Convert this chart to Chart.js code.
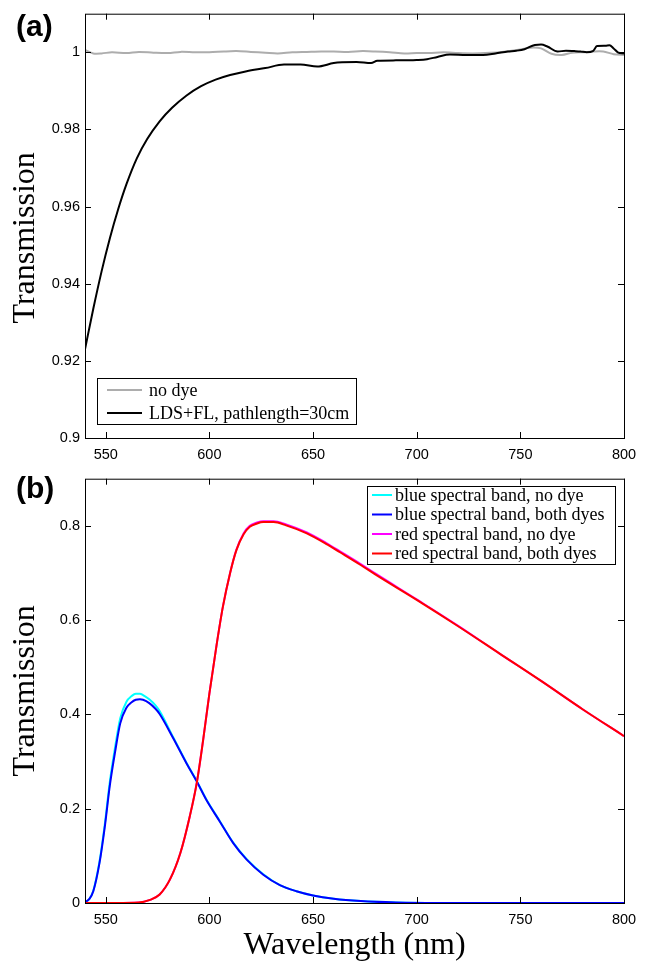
<!DOCTYPE html>
<html>
<head>
<meta charset="utf-8">
<script src="https://cdn.jsdelivr.net/npm/chart.js@4.4.0/dist/chart.umd.min.js"></script>
<style>
  html, body { margin: 0; padding: 0; background: #fff; }
  #wrapA { position: absolute; left: 0; top: 0; width: 646px; height: 465px; }
  #wrapB { position: absolute; left: 0; top: 465px; width: 646px; height: 504px; }
</style>
</head>
<body>
<div id="wrapA"><canvas id="chartA" width="646" height="465"></canvas></div>
<div id="wrapB"><canvas id="chartB" width="646" height="504"></canvas></div>
<script>
// ---- data ----
// (a) transmission near 1
const wlNoDye = [540, 544, 548, 553, 560, 566, 573, 580, 586, 593, 600, 607, 613, 620, 627, 633, 640, 647, 654, 660,
                 667, 674, 680, 687, 694, 700, 706, 713, 720, 727, 733, 740, 745, 750, 755, 760, 765, 770, 775, 780,
                 785, 790, 795, 800];
const noDye = [1.0006, 0.9997, 0.9997, 1.0, 0.9998, 1.0001, 0.9999, 0.9998, 1.0001, 1.0, 1.0, 1.0002, 1.0003, 1.0001,
               0.9999, 0.9997, 1.0, 1.0001, 1.0002, 1.0002, 1.0001, 1.0003, 1.0002, 1.0, 0.9997, 0.9998, 0.9998, 1.0,
               0.9998, 0.9997, 0.9998, 1.0, 1.0003, 1.0007, 1.0012, 1.0010, 0.9996, 0.9993, 0.9999, 1.0, 1.0002,
               1.0002, 0.9995, 0.9993];

const wlLds = [540, 544, 548, 552, 556, 560, 565, 570, 576, 582, 589, 596, 603, 610, 618, 627, 636, 644, 652, 660,
               664, 671, 678, 681, 690, 700, 705, 710, 716, 724, 732, 738, 744, 748, 752, 757, 760, 763, 768, 772,
               776, 779, 782, 785, 787, 791, 793, 795, 797, 800];
const ldsFl = [0.923, 0.9335, 0.9432, 0.9518, 0.9593, 0.9658, 0.9725, 0.9775, 0.9821, 0.9856, 0.9888, 0.9912, 0.9929,
               0.9941, 0.9951, 0.9959, 0.9968, 0.9968, 0.9963, 0.9972, 0.9974, 0.9975, 0.9972, 0.9978, 0.9979, 0.998,
               0.9982, 0.9988, 0.9994, 0.9993, 0.9993, 0.9997, 1.0002, 1.0004, 1.0008, 1.0019, 1.002, 1.0015, 1.0002,
               1.0004, 1.0003, 1.0002, 1.0, 1.0003, 1.0016, 1.0017, 1.0018, 1.001, 1.0, 0.9997];

// (b) spectral bands
const wlBlue = [540, 542, 544, 547, 549.5, 552, 554.5, 557, 560, 562.5, 564.5, 566.5, 568, 571, 574, 576, 582.5, 589,
                594, 598.5, 605, 611.5, 618, 626, 634, 642, 650, 660, 673, 690, 710, 750, 800];
const blueNoDye = [0.002, 0.008, 0.026, 0.088, 0.165, 0.258, 0.33, 0.392, 0.427, 0.439, 0.444, 0.444, 0.441, 0.432,
                   0.419, 0.407, 0.352, 0.297, 0.258, 0.22, 0.174, 0.128, 0.093, 0.061, 0.038, 0.025, 0.016, 0.009,
                   0.004, 0.001, 0, 0, 0];
const blueBoth = [0.002, 0.008, 0.025, 0.085, 0.16, 0.25, 0.32, 0.381, 0.414, 0.426, 0.431, 0.432, 0.431, 0.424,
                  0.412, 0.401, 0.35, 0.296, 0.257, 0.219, 0.173, 0.127, 0.092, 0.06, 0.038, 0.025, 0.016, 0.009,
                  0.004, 0.001, 0, 0, 0];

const wlRed = [540, 555, 566, 571, 576, 581, 586, 590.5, 594, 597, 600, 603.5, 606.5, 610, 613, 616.5, 619.5, 623,
               626, 631, 637, 647, 657, 663, 673, 680, 700, 720, 740, 760, 780, 800];
const redNoDye = [0, 0, 0.001, 0.006, 0.018, 0.05, 0.106, 0.183, 0.257, 0.346, 0.444, 0.548, 0.628, 0.7, 0.749,
                  0.784, 0.8, 0.807, 0.81, 0.81, 0.803, 0.786, 0.762, 0.746, 0.719, 0.699, 0.644, 0.588, 0.529, 0.471,
                  0.411, 0.354];
const redBoth = [0, 0, 0.001, 0.006, 0.018, 0.05, 0.106, 0.183, 0.257, 0.346, 0.444, 0.548, 0.628, 0.7, 0.748,
                 0.782, 0.798, 0.805, 0.808, 0.808, 0.801, 0.784, 0.76, 0.744, 0.717, 0.697, 0.643, 0.587, 0.529,
                 0.471, 0.411, 0.354];

// ticks
const xTicks = [550, 600, 650, 700, 750, 800];
const yTicksA = [0.9, 0.92, 0.94, 0.96, 0.98, 1];
const yLabelsA = ['0.9', '0.92', '0.94', '0.96', '0.98', '1'];
const yTicksB = [0, 0.2, 0.4, 0.6, 0.8];
const yLabelsB = ['0', '0.2', '0.4', '0.6', '0.8'];

function pts(xs, ys) {
  return xs.map((x, i) => ({ x: x, y: ys[i] }));
}

// box, inward ticks, boxed legend and panel letter (matlab look)
const framePlugin = {
  id: 'frame',
  afterDatasetsDraw(chart, args, opts) {
    const ctx = chart.ctx, a = chart.chartArea;
    const xs = chart.scales.x, ys = chart.scales.y;
    ctx.save();
    ctx.strokeStyle = '#000';
    ctx.lineWidth = 1;
    ctx.strokeRect(a.left + 0.5, a.top + 0.5, a.right - a.left, a.bottom - a.top);
    ctx.beginPath();
    opts.xTicks.forEach(v => {
      const px = Math.round(xs.getPixelForValue(v)) + 0.5;
      ctx.moveTo(px, a.bottom); ctx.lineTo(px, a.bottom - 6);
      ctx.moveTo(px, a.top); ctx.lineTo(px, a.top + 6);
    });
    opts.yTicks.forEach(v => {
      const py = Math.round(ys.getPixelForValue(v)) + 0.5;
      ctx.moveTo(a.left, py); ctx.lineTo(a.left + 6, py);
      ctx.moveTo(a.right, py); ctx.lineTo(a.right - 6, py);
    });
    ctx.stroke();

    // legend
    const lg = opts.legend;
    ctx.fillStyle = '#fff';
    ctx.fillRect(lg.x, lg.y, lg.w, lg.h);
    ctx.strokeRect(lg.x + 0.5, lg.y + 0.5, lg.w, lg.h);
    ctx.font = '18px "Liberation Serif"';
    ctx.textBaseline = 'middle';
    ctx.textAlign = 'left';
    chart.data.datasets.forEach((ds, i) => {
      const ry = lg.y + lg.firstRow + i * lg.rowGap;
      ctx.strokeStyle = ds.borderColor;
      ctx.lineWidth = 2;
      ctx.beginPath();
      ctx.moveTo(lg.x + lg.lineStart, ry);
      ctx.lineTo(lg.x + lg.lineEnd, ry);
      ctx.stroke();
      ctx.fillStyle = '#000';
      ctx.fillText(ds.label, lg.x + lg.textStart, ry + 1);
    });

    ctx.font = 'bold 30px "Liberation Sans"';
    ctx.textBaseline = 'alphabetic';
    ctx.fillStyle = '#000';
    ctx.fillText(opts.panel, 16, opts.panelY);
    ctx.restore();
  }
};

function makeOptions(yMin, yMax, yTicks, yLabels, xHeight, withXTitle, yTitle, frame) {
  return {
    responsive: false,
    animation: false,
    devicePixelRatio: 1,
    layout: { padding: { left: 0, right: 22, top: 13, bottom: 0 } },
    elements: { point: { radius: 0 }, line: { borderWidth: 2 } },
    plugins: { legend: { display: false }, tooltip: { enabled: false }, frame: frame },
    scales: {
      x: {
        type: 'linear', min: 540, max: 800,
        afterBuildTicks: s => { s.ticks = xTicks.map(v => ({ value: v })); },
        afterFit: s => { s.height = xHeight; },
        grid: { display: false, drawTicks: false },
        border: { display: false },
        ticks: { color: '#000', padding: 8, maxRotation: 0, font: { family: 'Liberation Sans', size: 14.5 } },
        title: {
          display: withXTitle, text: 'Wavelength (nm)', color: '#000',
          font: { family: 'Liberation Serif', size: 32, lineHeight: 1.2 },
          padding: { top: 0, bottom: 4 }
        }
      },
      y: {
        type: 'linear', min: yMin, max: yMax,
        afterBuildTicks: s => { s.ticks = yTicks.map(v => ({ value: v })); },
        afterFit: s => { s.width = 85; },
        grid: { display: false, drawTicks: false },
        border: { display: false },
        ticks: { color: '#000', padding: 5, font: { family: 'Liberation Sans', size: 14.5 },
                 callback: (v, i) => yLabels[i] },
        title: {
          display: true, text: yTitle, color: '#000',
          font: { family: 'Liberation Serif', size: 32, lineHeight: 1.2 },
          padding: { top: 6, bottom: 0 }
        }
      }
    }
  };
}

new Chart(document.getElementById('chartA'), {
  type: 'line',
  data: {
    datasets: [
      { label: 'no dye', data: pts(wlNoDye, noDye), borderColor: '#adadad', tension: 0.3, order: 1 },
      { label: 'LDS+FL, pathlength=30cm', data: pts(wlLds, ldsFl), borderColor: '#000',
        cubicInterpolationMode: 'monotone', order: 0 }
    ]
  },
  // trailing spaces nudge the rotated title down a bit, as in the original
  options: makeOptions(0.9, 1.01, yTicksA, yLabelsA, 27, false, 'Transmission   ', {
    xTicks: xTicks, yTicks: yTicksA, panel: '(a)', panelY: 36,
    legend: { x: 97, y: 378, w: 259, h: 46, firstRow: 12, rowGap: 23, lineStart: 10, lineEnd: 45, textStart: 52 }
  }),
  plugins: [framePlugin]
});

new Chart(document.getElementById('chartB'), {
  type: 'line',
  data: {
    datasets: [
      { label: 'blue spectral band, no dye', data: pts(wlBlue, blueNoDye), borderColor: '#00ffff',
        cubicInterpolationMode: 'monotone', order: 3 },
      { label: 'blue spectral band, both dyes', data: pts(wlBlue, blueBoth), borderColor: '#0000ff',
        cubicInterpolationMode: 'monotone', order: 2 },
      { label: 'red spectral band, no dye', data: pts(wlRed, redNoDye), borderColor: '#ff00ff',
        cubicInterpolationMode: 'monotone', order: 1 },
      { label: 'red spectral band, both dyes', data: pts(wlRed, redBoth), borderColor: '#ff0000',
        cubicInterpolationMode: 'monotone', order: 0 }
    ]
  },
  options: makeOptions(0, 0.9, yTicksB, yLabelsB, 66, true, 'Transmission', {
    xTicks: xTicks, yTicks: yTicksB, panel: '(b)', panelY: 33,
    legend: { x: 367, y: 21, w: 248, h: 78, firstRow: 9, rowGap: 19.5, lineStart: 5, lineEnd: 25, textStart: 28 }
  }),
  plugins: [framePlugin]
});
</script>
</body>
</html>
